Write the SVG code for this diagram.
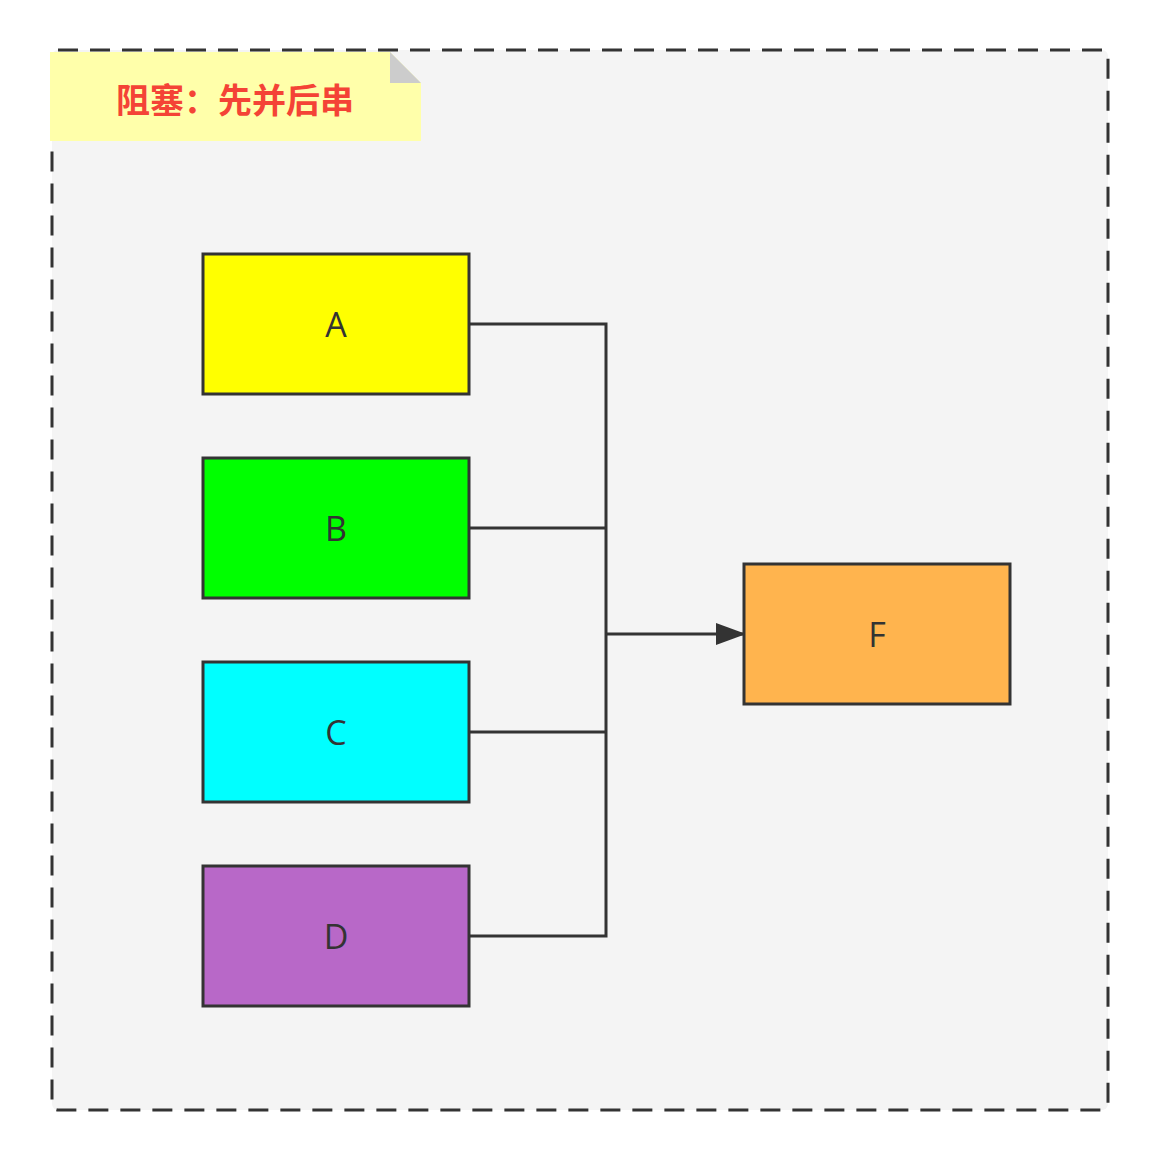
<svg xmlns="http://www.w3.org/2000/svg" width="1158" height="1160" viewBox="0 0 1158 1160">
<style>
.node{stroke:#333;stroke-width:3}
.lbl{font-family:"Open Sans","Noto Sans",sans-serif;font-size:34px;fill:#333;text-anchor:middle;dominant-baseline:central}
.conn{fill:none;stroke:#333;stroke-width:3}
</style>
<defs>
<marker id="arr" markerUnits="userSpaceOnUse" markerWidth="32" markerHeight="24" refX="30" refY="11" orient="auto">
<path d="M0,0 L30,11 L0,22 Z" fill="#333"/>
</marker>
</defs>
<rect width="1158" height="1160" fill="#fff"/>
<g id="container">
<rect x="52" y="50" width="1056" height="1060" rx="6" fill="#f4f4f4" stroke="#333" stroke-width="3" stroke-dasharray="20 12"/>
</g>
<g id="note">
<path d="M50,52 H390 L421,83 V141 H50 Z" fill="#ffffaa"/>
<path d="M390,52 L421,83 H390 Z" fill="#cccccc"/>
<text x="235" y="98" font-family="'Noto Sans CJK SC','Noto Sans',sans-serif" font-size="34" font-weight="bold" fill="#f44336" text-anchor="middle" dominant-baseline="central">阻塞：先并后串</text>
</g>
<g id="connectors">
<path class="conn" d="M469,324 H606 V936 H469"/>
<path class="conn" d="M469,528 H606"/>
<path class="conn" d="M469,732 H606"/>
<path class="conn" d="M606,634 H746" marker-end="url(#arr)"/>
</g>
<g id="A"><rect class="node" x="203" y="254" width="266" height="140" fill="#ffff00"/><text class="lbl" x="336" y="324">A</text></g>
<g id="B"><rect class="node" x="203" y="458" width="266" height="140" fill="#00ff00"/><text class="lbl" x="336" y="528">B</text></g>
<g id="C"><rect class="node" x="203" y="662" width="266" height="140" fill="#00ffff"/><text class="lbl" x="336" y="732">C</text></g>
<g id="D"><rect class="node" x="203" y="866" width="266" height="140" fill="#b868c8"/><text class="lbl" x="336" y="936">D</text></g>
<g id="F"><rect class="node" x="744" y="564" width="266" height="140" fill="#ffb44e"/><text class="lbl" x="877" y="634">F</text></g>
</svg>
